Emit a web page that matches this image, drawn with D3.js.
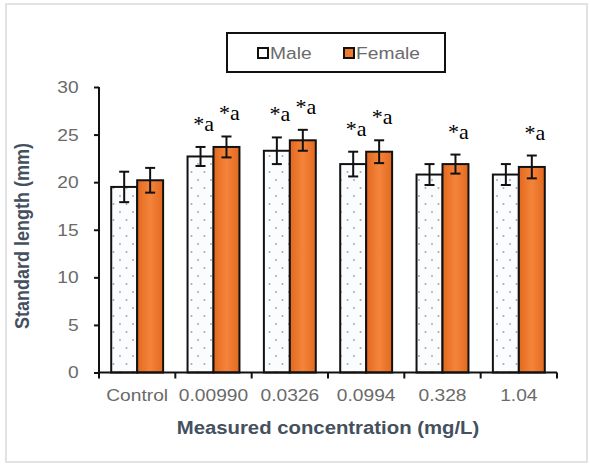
<!DOCTYPE html>
<html>
<head>
<meta charset="utf-8">
<script src="https://cdn.jsdelivr.net/npm/d3@7"></script>
<style>
  body { margin: 0; background: #fff; }
  svg text { font-family: "Liberation Sans", Arial, sans-serif; }
</style>
</head>
<body>
<div id="chart"></div>
<script>
// data
var categories = ["Control", "0.00990", "0.0326", "0.0994", "0.328", "1.04"];
var maleMean = [19.5, 22.7, 23.3, 21.9, 20.8, 20.8];
var maleErr = [1.6, 1.0, 1.4, 1.3, 1.1, 1.1];
var femaleMean = [20.2, 23.7, 24.4, 23.2, 21.9, 21.6];
var femaleErr = [1.3, 1.1, 1.1, 1.2, 1.0, 1.2];
var maleSig = ["", "*a", "*a", "*a", "", ""];
var femaleSig = ["", "*a", "*a", "*a", "*a", "*a"];
var yTicks = [0, 5, 10, 15, 20, 25, 30];
var seriesNames = ["Male", "Female"];

var svgWidth = 590;
var svgHeight = 468;
var stretch = 1.13; // picture text looks a bit wide

var svg = d3.select("#chart").append("svg")
  .attr("width", svgWidth)
  .attr("height", svgHeight);

var defs = svg.append("defs");

// dotted fill for male bars
var pat = defs.append("pattern")
  .attr("id", "dots")
  .attr("patternUnits", "userSpaceOnUse")
  .attr("width", 13)
  .attr("height", 16);
pat.append("rect").attr("width", 13).attr("height", 16).attr("fill", "#fbfcfe");
pat.append("circle").attr("cx", 3).attr("cy", 4).attr("r", 1).attr("fill", "#9fabbb");
pat.append("circle").attr("cx", 9.5).attr("cy", 12).attr("r", 1).attr("fill", "#9fabbb");

// orange gradient for female bars
var grad = defs.append("linearGradient")
  .attr("id", "orange")
  .attr("x1", "0%").attr("x2", "100%").attr("y1", "0%").attr("y2", "0%");
grad.append("stop").attr("offset", "0%").attr("stop-color", "#e2691f");
grad.append("stop").attr("offset", "50%").attr("stop-color", "#f4843a");
grad.append("stop").attr("offset", "100%").attr("stop-color", "#e2691f");

// outer frame
svg.append("rect")
  .attr("x", 6).attr("y", 4)
  .attr("width", 581).attr("height", 458)
  .attr("fill", "none")
  .attr("stroke", "#e2e2e2")
  .attr("stroke-width", 2);

var x0 = d3.scaleBand()
  .domain(categories)
  .range([99, 557])
  .paddingInner(0.32)
  .paddingOuter(0.16);

var x1 = d3.scaleBand()
  .domain(seriesNames)
  .range([0, x0.bandwidth()]);

var y = d3.scaleLinear()
  .domain([0, 30])
  .range([372.5, 87]);

var rows = categories.map(function(c, i) {
  return [
    { cat: c, s: "Male", v: maleMean[i], e: maleErr[i], sig: maleSig[i] },
    { cat: c, s: "Female", v: femaleMean[i], e: femaleErr[i], sig: femaleSig[i] }
  ];
});
var flat = [].concat.apply([], rows);

function barX(d) { return x0(d.cat) + x1(d.s); }
function barMid(d) { return barX(d) + x1.bandwidth() / 2; }

// bars
svg.append("g").selectAll("rect")
  .data(flat)
  .enter()
  .append("rect")
  .attr("x", barX)
  .attr("y", function(d) { return y(d.v); })
  .attr("width", x1.bandwidth())
  .attr("height", function(d) { return y(0) - y(d.v); })
  .attr("fill", function(d) { return d.s == "Male" ? "url(#dots)" : "url(#orange)"; })
  .attr("stroke", "#111")
  .attr("stroke-width", 2);

// error bars
var err = svg.append("g").attr("stroke", "#111").attr("stroke-width", 2);
flat.forEach(function(d) {
  var cx = barMid(d);
  err.append("line").attr("x1", cx).attr("x2", cx)
    .attr("y1", y(d.v + d.e)).attr("y2", y(d.v - d.e));
  err.append("line").attr("x1", cx - 5).attr("x2", cx + 5)
    .attr("y1", y(d.v + d.e)).attr("y2", y(d.v + d.e));
  err.append("line").attr("x1", cx - 5).attr("x2", cx + 5)
    .attr("y1", y(d.v - d.e)).attr("y2", y(d.v - d.e));
});

// significance marks
svg.append("g").selectAll("text")
  .data(flat.filter(function(d) { return d.sig != ""; }))
  .enter()
  .append("text")
  .attr("x", function(d) { return barMid(d) + 3; })
  .attr("y", function(d) { return y(d.v + d.e) - 16; })
  .attr("text-anchor", "middle")
  .style("font-family", "'Liberation Serif', 'Times New Roman', serif")
  .style("font-size", "22px")
  .attr("fill", "#000")
  .text(function(d) { return d.sig; });

// y axis
var yAxis = svg.append("g")
  .attr("transform", "translate(99,0)")
  .call(d3.axisLeft(y).tickValues(yTicks).tickSize(5).tickPadding(13));
yAxis.select(".domain").attr("stroke", "#111").attr("stroke-width", 2)
  .attr("d", "M0," + y(30) + "V" + y(0));
yAxis.selectAll(".tick line").attr("stroke", "#111").attr("stroke-width", 2);
yAxis.selectAll(".tick text")
  .attr("fill", "#6a6a6a")
  .style("font-size", "17px")
  .attr("transform", "scale(" + stretch + ",1)");

// x axis (labels at band centres, tick marks on band edges)
var xAxis = svg.append("g")
  .attr("transform", "translate(0," + y(0) + ")")
  .call(d3.axisBottom(x0).tickSize(0).tickPadding(16));
xAxis.select(".domain").attr("stroke", "#111").attr("stroke-width", 2)
  .attr("d", "M99,0H557");
xAxis.selectAll(".tick text")
  .attr("fill", "#6a6a6a")
  .style("font-size", "17px")
  .attr("transform", "scale(" + stretch + ",1)");

var edges = categories.map(function(c, i) { return x0.range()[0] + i * x0.step(); });
edges.push(x0.range()[1]);
xAxis.selectAll(".edge")
  .data(edges)
  .enter()
  .append("line")
  .attr("x1", function(d) { return d; })
  .attr("x2", function(d) { return d; })
  .attr("y1", 0).attr("y2", 6)
  .attr("stroke", "#111")
  .attr("stroke-width", 2);

// axis titles
svg.append("text")
  .attr("transform", "translate(328,434) scale(" + stretch + ",1)")
  .attr("text-anchor", "middle")
  .attr("fill", "#45505f")
  .style("font-size", "18px")
  .style("font-weight", "bold")
  .text("Measured concentration (mg/L)");

svg.append("text")
  .attr("transform", "translate(29,236) rotate(-90) scale(1," + stretch + ")")
  .attr("text-anchor", "middle")
  .attr("fill", "#45505f")
  .style("font-size", "18px")
  .style("font-weight", "bold")
  .text("Standard length (mm)");

// legend
var legend = svg.append("g");
legend.append("rect")
  .attr("x", 227).attr("y", 33)
  .attr("width", 218).attr("height", 39)
  .attr("fill", "#fff")
  .attr("stroke", "#111")
  .attr("stroke-width", 2);

var legendX = [258, 344];
seriesNames.forEach(function(name, i) {
  legend.append("rect")
    .attr("x", legendX[i]).attr("y", 48)
    .attr("width", 10).attr("height", 10)
    .attr("fill", name == "Male" ? "#fff" : "#ee7a2c")
    .attr("stroke", "#111")
    .attr("stroke-width", 2);
  legend.append("text")
    .attr("transform", "translate(" + (legendX[i] + 12) + ",59) scale(" + stretch + ",1)")
    .attr("fill", "#6a6a6a")
    .style("font-size", "17px")
    .text(name);
});
</script>
</body>
</html>
